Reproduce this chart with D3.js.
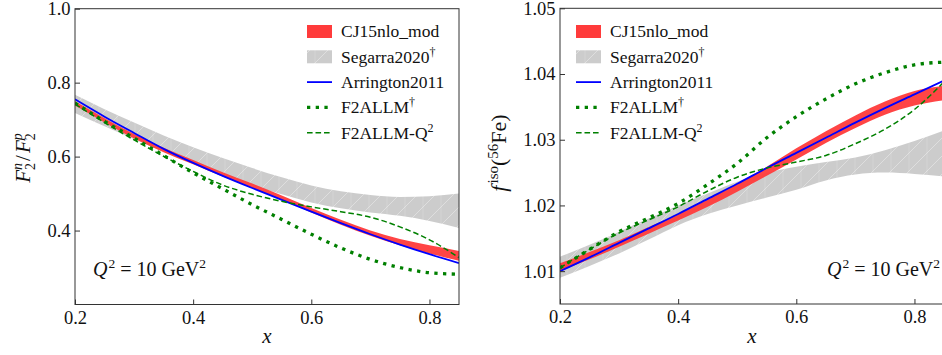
<!DOCTYPE html>
<html>
<head>
<meta charset="utf-8">
<script src="https://cdn.jsdelivr.net/npm/d3@7.9.0/dist/d3.min.js"></script>
<style>
  body { margin: 0; background: #fff; }
  svg { display: block; }
</style>
</head>
<body>
<svg id="chart" width="942" height="355"></svg>
<script>
// x grid shared by every curve
const xs = [0.2, 0.25, 0.3, 0.35, 0.4, 0.45, 0.5, 0.55, 0.6, 0.65, 0.7, 0.75, 0.8, 0.85];

// left panel: F2n/F2p
const ratioCJ15Lo = [0.738, 0.692, 0.649, 0.612, 0.579, 0.546, 0.515, 0.483, 0.449, 0.416, 0.386, 0.360, 0.338, 0.318];
const ratioCJ15Hi = [0.750, 0.704, 0.661, 0.624, 0.591, 0.558, 0.527, 0.495, 0.461, 0.429, 0.400, 0.377, 0.360, 0.345];
const ratioSegLo = [0.718, 0.682, 0.647, 0.613, 0.581, 0.551, 0.523, 0.498, 0.476, 0.460, 0.449, 0.440, 0.426, 0.407];
const ratioSegHi = [0.767, 0.728, 0.692, 0.657, 0.625, 0.596, 0.569, 0.544, 0.522, 0.506, 0.496, 0.491, 0.493, 0.500];
const ratioArrington = [0.755, 0.708, 0.664, 0.621, 0.583, 0.548, 0.515, 0.483, 0.451, 0.420, 0.390, 0.362, 0.336, 0.312];
const ratioF2allm = [0.745, 0.695, 0.650, 0.603, 0.556, 0.513, 0.470, 0.430, 0.390, 0.353, 0.322, 0.300, 0.286, 0.282];
const ratioF2allmQ2 = [0.742, 0.692, 0.645, 0.601, 0.560, 0.523, 0.498, 0.479, 0.464, 0.451, 0.436, 0.410, 0.375, 0.327];

// right panel: f_iso(56Fe)
const fisoCJ15Lo = [1.0100, 1.0118, 1.0137, 1.0157, 1.0177, 1.0198, 1.0221, 1.0245, 1.0270, 1.0295, 1.0318, 1.0338, 1.0352, 1.0360];
const fisoCJ15Hi = [1.0112, 1.0129, 1.0147, 1.0167, 1.0187, 1.0209, 1.0233, 1.0259, 1.0287, 1.0313, 1.0337, 1.0358, 1.0374, 1.0382];
const fisoSegLo = [1.0090, 1.0108, 1.0127, 1.0148, 1.0170, 1.0187, 1.0200, 1.0212, 1.0224, 1.0238, 1.0247, 1.0250, 1.0248, 1.0244];
const fisoSegHi = [1.0122, 1.0140, 1.0160, 1.0180, 1.0200, 1.0218, 1.0236, 1.0250, 1.0259, 1.0266, 1.0273, 1.0284, 1.0298, 1.0314];
const fisoArrington = [1.0100, 1.0121, 1.0143, 1.0165, 1.0187, 1.0210, 1.0233, 1.0257, 1.0280, 1.0303, 1.0326, 1.0348, 1.0369, 1.0390];
const fisoF2allm = [1.0105, 1.0133, 1.0160, 1.0181, 1.0203, 1.0232, 1.0264, 1.0303, 1.0335, 1.0362, 1.0385, 1.0402, 1.0414, 1.0418];
const fisoF2allmQ2 = [1.0105, 1.0133, 1.0158, 1.0178, 1.0198, 1.0222, 1.0243, 1.0257, 1.0266, 1.0276, 1.0294, 1.0316, 1.0346, 1.0388];

const xTicks = [0.2, 0.4, 0.6, 0.8];
const ratioTicks = [0.4, 0.6, 0.8, 1.0];
const fisoTicks = [1.01, 1.02, 1.03, 1.04, 1.05];
const legendNames = ['CJ15nlo_mod', 'Segarra2020', 'Arrington2011', 'F2ALLM', 'F2ALLM-Q'];
const legendSup = ['', '†', '', '†', '2'];

const RED = '#ff3b3b', GRAY = '#cccccc', BLUE = '#0000ff', GREEN = '#008000';
const FONT = '"Liberation Serif"';

const svg = d3.select('#chart');
const defs = svg.append('defs');

// white "/" hatch on the gray band
const pat = defs.append('pattern')
  .attr('id', 'hatch').attr('patternUnits', 'userSpaceOnUse')
  .attr('width', 18).attr('height', 18);
pat.append('rect').attr('width', 18).attr('height', 18).attr('fill', GRAY);
pat.append('path').attr('d', 'M-2,20 L20,-2 M-4,4 L4,-4 M14,22 L22,14')
  .attr('stroke', '#fff').attr('stroke-opacity', 0.45).attr('stroke-width', 0.8);
pat.append('path').attr('d', 'M9,0 L9,18').attr('stroke', '#fff').attr('stroke-opacity', 0.2).attr('stroke-width', 0.8);

function txt(sel) {
  return sel.append('text').style('font-family', FONT).attr('fill', '#111');
}

function drawPanel(p) {
  const x = d3.scaleLinear().domain([0.2, 0.85]).range([p.left, p.left + 384]);
  const y = d3.scaleLinear().domain(p.yDomain).range([p.bottom, p.top]);

  const clipId = 'clip' + p.id;
  defs.append('clipPath').attr('id', clipId)
    .append('rect').attr('x', x.range()[0]).attr('y', p.top)
    .attr('width', 384).attr('height', p.bottom - p.top);

  const g = svg.append('g');
  const plot = g.append('g').attr('clip-path', `url(#${clipId})`);

  const band = (lo, hi) => d3.area()
    .x((d, i) => x(xs[i])).y0((d, i) => y(lo[i])).y1((d, i) => y(hi[i]))
    .curve(d3.curveMonotoneX)(xs);
  const line = (vals) => d3.line()
    .x((d, i) => x(xs[i])).y((d, i) => y(vals[i]))
    .curve(d3.curveMonotoneX)(xs);

  plot.append('path').attr('d', band(p.segLo, p.segHi)).attr('fill', 'url(#hatch)');
  plot.append('path').attr('d', band(p.cjLo, p.cjHi)).attr('fill', RED).attr('opacity', 0.95);
  plot.append('path').attr('d', line(p.arr)).attr('fill', 'none')
    .attr('stroke', BLUE).attr('stroke-width', 1.8);
  plot.append('path').attr('d', line(p.allm)).attr('fill', 'none')
    .attr('stroke', GREEN).attr('stroke-width', 3.3).attr('stroke-dasharray', '3.3,5.4');
  plot.append('path').attr('d', line(p.allmQ2)).attr('fill', 'none')
    .attr('stroke', GREEN).attr('stroke-width', 1.5).attr('stroke-dasharray', '5.6,2.9');

  // axes
  const xAxis = d3.axisBottom(x).tickValues(xTicks).tickFormat(d3.format('.1f'))
    .tickSizeInner(-5).tickSizeOuter(0).tickPadding(6);
  const yAxis = d3.axisLeft(y).tickValues(p.yTicks).tickFormat(p.yFormat)
    .tickSizeInner(-5).tickSizeOuter(0).tickPadding(4.5);
  const gx = g.append('g').attr('transform', `translate(0,${p.bottom})`).call(xAxis);
  const gy = g.append('g').attr('transform', `translate(${p.left},0)`).call(yAxis);
  [gx, gy].forEach(a => {
    a.attr('font-family', null);
    a.select('.domain').remove();
    a.selectAll('line').attr('stroke', '#333');
    a.selectAll('text').attr('font-size', 18.5).attr('fill', '#111')
      .style('font-family', FONT);
  });

  g.append('rect').attr('x', p.left).attr('y', p.top)
    .attr('width', 384).attr('height', p.bottom - p.top)
    .attr('fill', 'none').attr('stroke', '#333').attr('stroke-width', 1);

  // x label
  txt(g).attr('x', p.left + 192).attr('y', 343)
    .attr('text-anchor', 'middle').attr('font-size', 21).attr('font-style', 'italic').text('x');

  // legend
  const lx = p.left + p.legendDx;
  legendNames.forEach((name, i) => {
    const cy = 31.5 + i * 25.3;
    if (i === 0) {
      g.append('rect').attr('x', lx).attr('y', cy - 6.5).attr('width', 25).attr('height', 13).attr('fill', RED);
    } else if (i === 1) {
      g.append('rect').attr('x', lx).attr('y', cy - 6.5).attr('width', 25).attr('height', 13).attr('fill', 'url(#hatch)');
    } else {
      const st = [null, null,
        { w: 1.8, c: BLUE, d: null },
        { w: 3.3, c: GREEN, d: '3.3,5.4' },
        { w: 1.5, c: GREEN, d: '5.6,2.9' }][i];
      g.append('line').attr('x1', lx).attr('x2', lx + 25).attr('y1', cy).attr('y2', cy)
        .attr('stroke', st.c).attr('stroke-width', st.w).attr('stroke-dasharray', st.d);
    }
    const t = txt(g).attr('x', lx + 34).attr('y', cy + 5.8).attr('font-size', 17.5);
    t.append('tspan').text(name);
    if (legendSup[i]) t.append('tspan').attr('font-size', 12).attr('dy', -7).text(legendSup[i]);
  });

  // Q^2 label
  const q = txt(g).attr('x', p.qX).attr('y', 276).attr('font-size', 20)
    .attr('text-anchor', p.qAnchor);
  q.append('tspan').attr('font-style', 'italic').text('Q');
  q.append('tspan').attr('font-size', 13.5).attr('dy', -8).attr('dx', 1).text('2');
  q.append('tspan').attr('dy', 8).text(' = 10 GeV');
  q.append('tspan').attr('font-size', 13.5).attr('dy', -8).text('2');

  return g;
}

drawPanel({
  id: 'L', left: 75, top: 8.7, bottom: 304.5, yDomain: [0.2, 1.0],
  yTicks: ratioTicks, yFormat: d3.format('.1f'),
  cjLo: ratioCJ15Lo, cjHi: ratioCJ15Hi, segLo: ratioSegLo, segHi: ratioSegHi,
  arr: ratioArrington, allm: ratioF2allm, allmQ2: ratioF2allmQ2,
  legendDx: 232, qX: 93, qAnchor: 'start'
});
drawPanel({
  id: 'R', left: 560, top: 8.3, bottom: 304, yDomain: [1.005, 1.05],
  yTicks: fisoTicks, yFormat: d3.format('.2f'),
  cjLo: fisoCJ15Lo, cjHi: fisoCJ15Hi, segLo: fisoSegLo, segHi: fisoSegHi,
  arr: fisoArrington, allm: fisoF2allm, allmQ2: fisoF2allmQ2,
  legendDx: 16, qX: 940, qAnchor: 'end'
});

// y labels
const yl = txt(svg).attr('transform', 'translate(30,158) rotate(-90)')
  .attr('text-anchor', 'middle').attr('font-size', 21);
yl.append('tspan').attr('font-style', 'italic').text('F');
yl.append('tspan').attr('font-size', 14).attr('font-style', 'italic').attr('dy', -8).text('n');
yl.append('tspan').attr('font-size', 14).attr('dx', -7).attr('dy', 13).text('2');
yl.append('tspan').attr('dy', -5).attr('dx', 2).text('/');
yl.append('tspan').attr('font-style', 'italic').attr('dx', 2).text('F');
yl.append('tspan').attr('font-size', 14).attr('font-style', 'italic').attr('dy', -8).text('p');
yl.append('tspan').attr('font-size', 14).attr('dx', -7).attr('dy', 13).text('2');

const yr = txt(svg).attr('transform', 'translate(506,153) rotate(-90)')
  .attr('text-anchor', 'middle').attr('font-size', 22);
yr.append('tspan').attr('font-style', 'italic').text('f');
yr.append('tspan').attr('font-size', 15).attr('dy', -8).attr('dx', 2).text('iso');
yr.append('tspan').attr('dy', 8).text('(');
yr.append('tspan').attr('font-size', 15).attr('dy', -8).text('56');
yr.append('tspan').attr('dy', 8).text('Fe)');
</script>
</body>
</html>
